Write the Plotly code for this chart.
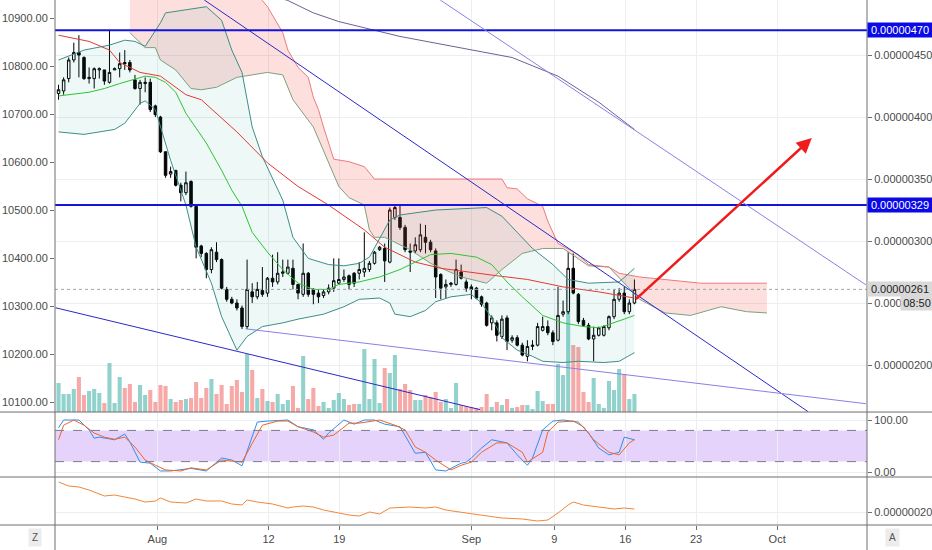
import plotly.graph_objects as go
from plotly.subplots import make_subplots

# 12h candles, prices in satoshi (x 1e-8), x = bar number
bar_open = [419, 421, 431, 446, 452, 448, 431, 431, 438, 438, 428, 438, 439, 444, 444, 430, 423, 427, 428, 409,
            400, 372, 354, 357, 345, 339, 348, 328, 296, 290, 277, 291, 285, 261, 253, 250, 246, 231, 259, 255,
            260, 258, 270, 267, 274, 274, 278, 265, 257, 274, 261, 258, 256, 259, 262, 266, 269, 272, 274, 274,
            275, 277, 282, 293, 294, 283, 319, 319, 311, 292, 292, 293, 303, 299, 292, 273, 263, 265, 265, 275,
            267, 263, 262, 255, 250, 234, 234, 223, 238, 220, 222, 216, 207, 215, 216, 228, 231, 226, 220, 241,
            243, 278, 257, 236, 232, 221, 224, 224, 230, 239, 253, 258, 243, 250]
bar_high = [426, 432, 448, 460, 466, 449, 440, 440, 440, 438, 470, 440, 452, 454, 446, 434, 430, 432, 431, 410,
            401, 372, 360, 357, 347, 356, 349, 328, 297, 291, 295, 299, 286, 263, 255, 253, 248, 285, 266, 267,
            279, 271, 289, 291, 285, 285, 285, 265, 298, 275, 262, 261, 261, 265, 286, 286, 277, 273, 275, 283,
            307, 284, 292, 296, 298, 327, 329, 329, 313, 298, 303, 314, 313, 301, 294, 274, 269, 267, 285, 281,
            269, 265, 263, 256, 251, 240, 236, 240, 240, 224, 224, 218, 220, 220, 234, 239, 236, 228, 263, 252,
            291, 290, 258, 238, 234, 231, 231, 232, 240, 261, 262, 263, 253, 269]
bar_low = [414, 418, 428, 444, 432, 430, 427, 423, 431, 426, 427, 438, 432, 438, 436, 422, 410, 420, 404, 400,
           371, 351, 351, 344, 332, 337, 327, 286, 287, 270, 274, 283, 261, 251, 249, 244, 229, 229, 250, 253,
           255, 255, 263, 265, 271, 273, 261, 253, 255, 255, 249, 250, 254, 257, 259, 265, 267, 261, 263, 269,
           271, 275, 281, 292, 267, 282, 317, 309, 291, 275, 290, 291, 290, 291, 254, 253, 254, 263, 264, 269,
           259, 253, 253, 247, 231, 228, 219, 221, 212, 218, 215, 207, 203, 212, 215, 227, 224, 216, 219, 239,
           241, 257, 233, 231, 220, 203, 223, 223, 228, 237, 251, 241, 241, 249]
bar_close = [422, 430, 446, 452, 450, 431, 432, 439, 439, 429, 436, 439, 443, 443, 438, 423, 428, 428, 406, 402,
             372, 353, 356, 345, 339, 347, 328, 295, 290, 277, 293, 285, 262, 253, 250, 246, 231, 261, 255, 261,
             257, 270, 267, 274, 275, 279, 265, 258, 274, 257, 257, 255, 259, 262, 268, 269, 271, 265, 266, 277,
             278, 282, 291, 295, 284, 325, 327, 311, 293, 291, 297, 305, 299, 293, 271, 262, 265, 266, 277, 270,
             262, 261, 254, 249, 232, 238, 224, 237, 219, 222, 216, 208, 215, 216, 231, 231, 226, 219, 240, 243,
             278, 258, 235, 232, 221, 224, 230, 231, 239, 253, 258, 243, 250, 261]
volume = [29, 18, 18, 23, 35, 17, 21, 23, 19, 9, 49, 9, 35, 24, 28, 10, 27, 17, 22, 10,
          27, 26, 13, 10, 12, 13, 14, 30, 14, 24, 33, 18, 27, 8, 26, 32, 20, 58, 42, 14,
          23, 11, 10, 18, 8, 12, 26, 4, 56, 13, 24, 6, 10, 4, 12, 19, 13, 7, 8, 8,
          63, 13, 53, 9, 44, 39, 57, 23, 28, 22, 12, 12, 17, 15, 20, 10, 13, 4, 29, 7,
          6, 5, 4, 5, 18, 5, 10, 7, 13, 4, 5, 7, 7, 3, 21, 11, 8, 8, 48, 37,
          132, 67, 65, 20, 10, 34, 8, 4, 31, 22, 43, 38, 13, 18]
bars = list(range(len(bar_close)))

# moving averages
ma_red_x = [0, 6, 10, 12, 16, 20, 25, 28, 35, 41, 47, 53, 60, 64, 70, 75, 86, 92, 99, 106, 113]
ma_red = [466, 461, 454, 444, 436, 433, 418, 414, 388, 363, 344, 329, 309, 295, 283, 278, 272, 269, 263, 259, 254]
ma_green_x = [0, 6, 9, 12, 17, 19, 21, 23, 25, 29, 32, 34, 36, 38, 41, 44, 47, 50, 53, 55, 59, 63, 67, 71, 73,
              77, 82, 85, 88, 91, 95, 99, 103, 106, 109, 111, 113]
ma_green = [417, 420, 423, 427, 433, 432, 428, 420, 403, 379, 357, 341, 328, 307, 291, 277, 266, 261, 261, 265,
            267, 271, 277, 285, 289, 290, 287, 281, 267, 255, 240, 234, 231, 230, 234, 237, 240]
ma_long_x = [40, 45, 50, 55, 67, 79, 89, 98, 106, 113]
ma_long = [500, 494, 484, 477, 465, 456, 448, 433, 412, 390]

# bollinger bands
bb_up_x = [0, 5, 10, 13, 15, 17, 20, 21, 29, 32, 34, 36, 38, 40, 44, 46, 49, 53, 56, 59, 61, 64, 65, 67, 74,
           84, 87, 90, 93, 97, 100, 104, 108, 110, 113]
bb_up = [446, 454, 458, 462, 461, 457, 476, 484, 489, 478, 454, 436, 392, 368, 333, 303, 286, 281, 280, 282,
         287, 309, 317, 321, 325, 327, 320, 307, 294, 281, 269, 266, 267, 267, 278]
bb_lo_x = [0, 5, 11, 13, 16, 17, 19, 20, 22, 25, 27, 30, 32, 35, 37, 40, 44, 47, 52, 56, 59, 63, 65, 66, 69,
           72, 74, 77, 81, 83, 85, 87, 90, 93, 95, 99, 102, 107, 110, 113]
bb_lo = [388, 386, 390, 395, 411, 413, 406, 392, 365, 329, 295, 266, 239, 212, 223, 231, 234, 237, 241, 247,
         253, 254, 250, 241, 239, 244, 251, 255, 257, 250, 238, 222, 212, 207, 203, 202, 203, 202, 203, 210]

# ichimoku cloud (projected ahead)
span_a_x = [14, 17, 19, 20, 23, 26, 28, 31, 35, 41, 44, 46, 50, 53, 55, 57, 60, 61, 62, 64, 69, 73, 79, 84, 87,
            91, 95, 99, 104, 108, 111, 114, 119, 124, 130, 135, 139]
span_a = [468, 456, 456, 446, 438, 423, 422, 424, 432, 436, 434, 414, 392, 363, 344, 335, 329, 309, 303, 303,
          293, 282, 271, 266, 277, 290, 294, 294, 280, 279, 266, 253, 242, 240, 247, 243, 242]
span_b_x = [14, 37, 40, 41, 44, 45, 47, 49, 50, 51, 52, 53, 54, 57, 60, 62, 87, 88, 90, 92, 95, 96, 98, 102,
            104, 108, 110, 114, 119, 126, 139]
span_b = [560, 520, 494, 489, 468, 454, 440, 432, 416, 406, 392, 378, 366, 364, 360, 350, 350, 343, 342, 334,
          328, 316, 298, 289, 281, 279, 274, 271, 269, 266, 266]

# stoch rsi
stoch_k_x = [0, 1, 3, 4, 6, 7, 8, 11, 13, 14, 16, 18, 20, 22, 26, 29, 32, 34, 36, 39, 41, 45, 47, 50, 52, 53,
             56, 58, 60, 62, 64, 67, 70, 72, 74, 76, 79, 80, 81, 83, 85, 88, 90, 92, 93, 95, 97, 99, 102, 104,
             106, 108, 110, 111, 113]
stoch_k = [85, 100, 100, 100, 81, 65, 67, 62, 73, 58, 19, 17, 2, 2, 7, 2, 27, 23, 12, 96, 98, 100, 87, 81, 63,
           75, 100, 92, 100, 100, 92, 87, 36, 38, 4, 2, 17, 19, 27, 46, 62, 56, 33, 13, 27, 81, 98, 100, 96, 75,
           46, 33, 38, 67, 62]
stoch_d_x = [0, 1, 3, 5, 7, 9, 11, 13, 15, 17, 19, 21, 24, 26, 29, 32, 34, 36, 38, 40, 43, 45, 47, 50, 52, 54,
             57, 59, 63, 66, 68, 70, 72, 74, 77, 79, 81, 83, 86, 88, 91, 92, 95, 96, 98, 101, 103, 105, 108, 110,
             112, 113]
stoch_d = [62, 90, 100, 90, 75, 67, 63, 67, 48, 23, 13, 4, 2, 8, 4, 23, 21, 19, 55, 90, 98, 98, 87, 77, 67, 71,
           94, 94, 100, 90, 81, 48, 38, 23, 4, 13, 19, 38, 56, 56, 38, 19, 38, 77, 96, 98, 87, 62, 38, 33, 56, 62]

# lower pane (x 1e-8)
low_x = [0, 2, 4, 6, 9, 11, 13, 15, 17, 19, 20, 22, 25, 27, 29, 32, 34, 36, 37, 39, 42, 45, 46, 48, 50, 52, 55,
         57, 59, 61, 63, 65, 69, 72, 74, 76, 80, 83, 87, 91, 94, 96, 98, 100, 101, 103, 106, 109, 111, 113]
low_val = [32, 30.4, 30, 28.8, 26.4, 26.8, 26, 25.2, 24, 24.4, 25.6, 24, 23.6, 25.2, 24.4, 24.4, 23.2, 22.8,
           24.8, 24, 23.2, 21.6, 22, 22.4, 22, 20.8, 19.6, 18.8, 18.4, 20, 19.2, 21.6, 22, 21.6, 22, 20.8, 19.6,
           18.8, 17.6, 17.2, 16.4, 16.8, 19.6, 22.8, 24, 22.8, 22, 21.2, 21.6, 21.2]

# drawings
levels = [470, 329]
last_price = 261
trend_dark = [(28.6, 494.4, 147.1, 162.3), (-0.6, 246.2, 82.7, 164.0)]
trend_light = [(74.9, 494.4, 158.4, 264.7), (36.7, 229.2, 158.4, 168.8)]
arrow_from = (113, 252)
arrow_to = (147.8, 383)

date_ticks = [19.4, 41.2, 55.1, 81.0, 97.3, 111.2, 125.1, 141.0]
date_labels = ["Aug", "12", "19", "Sep", "9", "16", "23", "Oct"]
price_ticks = [200, 250, 300, 350, 400, 450]
left_ticks = [10100, 10200, 10300, 10400, 10500, 10600, 10700, 10800, 10900]

FONT = "Liberation Sans"
TXT = "#4a4a4a"
GRID = "#eceef2"

fig = make_subplots(rows=3, cols=1, shared_xaxes=True, vertical_spacing=0,
                    row_heights=[412, 65, 48])


def line(x, y, color, axis="y4", xa="x", width=1, dash=None):
    fig.add_trace(go.Scatter(x=x, y=y, mode="lines", xaxis=xa, yaxis=axis,
                             line=dict(color=color, width=width, dash=dash),
                             hoverinfo="skip", showlegend=False))


# volume on the base axis of the top pane
vol_colors = ["rgba(38,166,154,0.5)" if c >= o else "rgba(239,83,80,0.5)"
              for o, c in zip(bar_open, bar_close)]
fig.add_trace(go.Bar(x=bars, y=volume, marker_color=vol_colors, marker_line_width=0,
                     width=0.8, xaxis="x", yaxis="y", hoverinfo="skip", showlegend=False))

# cloud
fig.add_trace(go.Scatter(x=span_a_x + span_b_x[::-1], y=span_a + span_b[::-1],
                         fill="toself", fillcolor="rgba(244,67,54,0.17)", mode="lines",
                         line=dict(width=0), xaxis="x", yaxis="y4",
                         hoverinfo="skip", showlegend=False))
# bollinger fill
fig.add_trace(go.Scatter(x=bb_up_x + bb_lo_x[::-1], y=bb_up + bb_lo[::-1],
                         fill="toself", fillcolor="rgba(0,150,136,0.07)", mode="lines",
                         line=dict(width=0), xaxis="x", yaxis="y4",
                         hoverinfo="skip", showlegend=False))

line(span_a_x, span_a, "#7fa080")
line(span_b_x, span_b, "#ee7a7a")
line(bb_up_x, bb_up, "#3c8f88")
line(bb_lo_x, bb_lo, "#3c8f88")
line(ma_long_x, ma_long, "#6a6294")
line(ma_red_x, ma_red, "#e53935")
line(ma_green_x, ma_green, "#33c233")

fig.add_trace(go.Candlestick(x=bars, open=bar_open, high=bar_high, low=bar_low, close=bar_close,
                             xaxis="x", yaxis="y4",
                             increasing=dict(line=dict(color="#000000", width=1), fillcolor="#ffffff"),
                             decreasing=dict(line=dict(color="#000000", width=1), fillcolor="#000000"),
                             hoverinfo="skip", showlegend=False))

# dummy trace so the left scale is drawn
fig.add_trace(go.Scatter(x=[0], y=[10500], mode="markers", opacity=0, xaxis="x", yaxis="y5",
                         hoverinfo="skip", showlegend=False))

# stoch rsi pane
fig.add_shape(type="rect", xref="x2 domain", yref="y2", x0=0, x1=1, y0=20, y1=80,
              fillcolor="#e6d3fb", line_width=0, layer="below")
for lv in (20, 80):
    fig.add_shape(type="line", xref="x2 domain", yref="y2", x0=0, x1=1, y0=lv, y1=lv,
                  line=dict(color="#7c7c8a", width=1, dash="dash"))
line(stoch_k_x, stoch_k, "#2f8fe8", axis="y2", xa="x2")
line(stoch_d_x, stoch_d, "#f0642a", axis="y2", xa="x2")

# lower pane
line(low_x, low_val, "#f0883a", axis="y3", xa="x3")

# drawings
for lv in levels:
    fig.add_shape(type="line", xref="x domain", yref="y4", x0=0, x1=1, y0=lv, y1=lv,
                  line=dict(color="#1414dc", width=2))
fig.add_shape(type="line", xref="x domain", yref="y4", x0=0, x1=1, y0=last_price, y1=last_price,
              line=dict(color="#a0a3aa", width=1, dash="dot"))
for x0, y0, x1, y1 in trend_dark:
    fig.add_shape(type="line", xref="x", yref="y4", x0=x0, y0=y0, x1=x1, y1=y1,
                  line=dict(color="#2a2ac8", width=1))
for x0, y0, x1, y1 in trend_light:
    fig.add_shape(type="line", xref="x", yref="y4", x0=x0, y0=y0, x1=x1, y1=y1,
                  line=dict(color="#8a80e6", width=1))

fig.add_annotation(x=arrow_to[0], y=arrow_to[1], ax=arrow_from[0], ay=arrow_from[1],
                   xref="x", yref="y4", axref="x", ayref="y4", text="", showarrow=True,
                   arrowhead=2, arrowsize=1.2, arrowwidth=2.5, arrowcolor="#ee1c1c")

# pane separators and scale borders
for py in (0.2152, 0.0914, 0.0):
    fig.add_shape(type="line", xref="paper", yref="paper", x0=-0.07, x1=1.09, y0=py, y1=py,
                  line=dict(color="#6f6f6f", width=1))
for px in (0, 1):
    fig.add_shape(type="line", xref="paper", yref="paper", x0=px, x1=px, y0=-0.05, y1=1,
                  line=dict(color="#6f6f6f", width=1))

# price labels on the right scale
for lv in levels:
    fig.add_annotation(x=1, xref="paper", xanchor="left", y=lv, yref="y4",
                       text=f"{lv * 1e-8:.8f}", showarrow=False, bgcolor="#0a0ae6",
                       font=dict(color="white", size=11, family=FONT), width=62, borderpad=1)
fig.add_annotation(x=1, xref="paper", xanchor="left", y=last_price, yref="y4",
                   text=f"{last_price * 1e-8:.8f}", showarrow=False, bgcolor="#d9d9d9",
                   font=dict(color="#222222", size=11, family=FONT), width=62, borderpad=1)
fig.add_annotation(x=1.0406, xref="paper", xanchor="left", y=250, yref="y4",
                   text="08:50", showarrow=False, bgcolor="#d9d9d9",
                   font=dict(color="#222222", size=11, family=FONT), width=30, borderpad=1)
fig.add_annotation(x=-0.0333, xref="paper", y=-0.0229, yref="paper", yanchor="middle",
                   text="Z", showarrow=False, bgcolor="#ececec",
                   font=dict(color="#555555", size=10, family=FONT), borderpad=3)
fig.add_annotation(x=1.0406, xref="paper", y=-0.0229, yref="paper", yanchor="middle",
                   text="A", showarrow=False, bgcolor="#ececec",
                   font=dict(color="#555555", size=10, family=FONT), borderpad=3)

xcommon = dict(range=[-0.69, 158.63], tickvals=date_ticks, ticktext=date_labels,
               showgrid=True, gridcolor=GRID, zeroline=False, showline=False,
               rangeslider=dict(visible=False), automargin=False)
ycommon = dict(zeroline=False, ticks="outside", ticklen=4, tickcolor="#6f6f6f", automargin=False)
fig.update_layout(
    width=932, height=550,
    margin=dict(l=55, r=65, t=0, b=25, autoexpand=False),
    paper_bgcolor="white", plot_bgcolor="white",
    font=dict(family=FONT, size=11, color=TXT),
    showlegend=False, hovermode=False,
    xaxis=dict(**xcommon, showticklabels=False),
    xaxis2=dict(**xcommon, showticklabels=False),
    xaxis3=dict(**xcommon, showticklabels=True, ticks="outside", ticklen=4, tickcolor="#6f6f6f"),
    yaxis=dict(range=[0, 412], visible=False, fixedrange=True),
    yaxis4=dict(overlaying="y", anchor="x", side="right", range=[162.1, 494.4],
                tickvals=price_ticks, ticktext=[f"{v * 1e-8:.8f}" for v in price_ticks],
                showgrid=True, gridcolor=GRID, **ycommon),
    yaxis5=dict(overlaying="y", anchor="x", side="left", range=[10079.8, 10938.1],
                tickvals=left_ticks, ticktext=[f"{v:.2f}" for v in left_ticks],
                showgrid=False, **ycommon),
    yaxis2=dict(side="right", range=[-9.6, 115.4], tickvals=[0, 100], ticktext=["0.00", "100.00"],
                showgrid=True, gridcolor=GRID, **ycommon),
    yaxis3=dict(side="right", range=[14.8, 34], tickvals=[20], ticktext=["0.00000020"],
                showgrid=True, gridcolor=GRID, **ycommon),
)

# the page body has a default 8px margin; drop it so the figure fills the window
fig.write_html("out.html", config={"displayModeBar": False},
               post_script="document.body.style.margin='0';document.body.style.overflow='hidden';")
